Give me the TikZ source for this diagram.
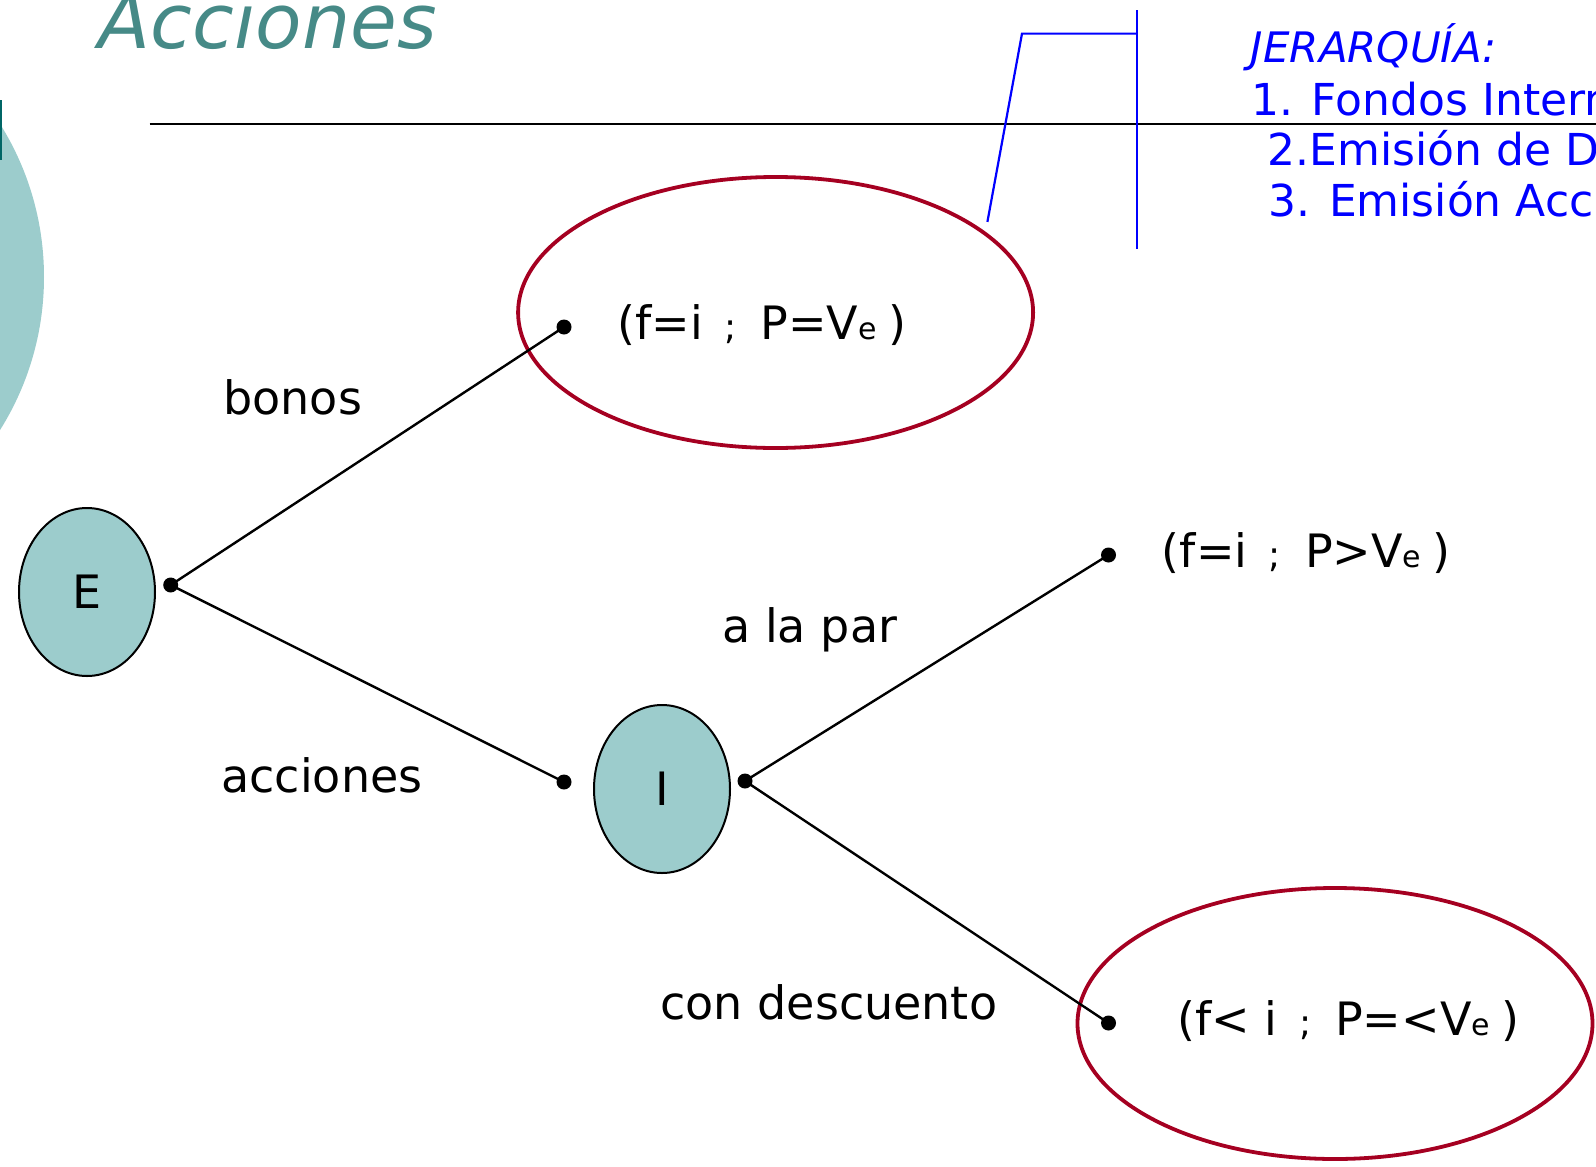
\documentclass[tikz,border=0pt]{standalone}
\usepackage{fontspec}
\setmainfont{DejaVu Sans}
\usetikzlibrary{shapes.geometric}
\definecolor{tealfill}{RGB}{156,204,204}
\definecolor{tealdark}{RGB}{0,102,102}
\definecolor{titleteal}{RGB}{70,138,135}
\definecolor{darkred}{RGB}{165,0,33}
\definecolor{hblue}{RGB}{0,0,255}
\newcommand{\sm}[1]{{\fontsize{15}{18}\selectfont #1}}
\newcommand{\semi}{\hspace{0.47em}{\fontsize{18}{20}\selectfont ;}\hspace{0.52em}}
\tikzset{
  txt/.style={anchor=base west, inner sep=0pt, font=\fontsize{23}{28}\selectfont},
  pt/.style={circle, fill, inner sep=0pt, minimum size=7.5pt},
  state/.style={ellipse, draw, line width=1pt, fill=tealfill, minimum width=68pt, minimum height=84pt, inner sep=0pt, font=\fontsize{23}{28}\selectfont},
  bubble/.style={ellipse, draw=darkred, line width=1.9pt, minimum width=257.5pt, minimum height=135.5pt},
}

\begin{document}
\begin{tikzpicture}[x=0.5pt,y=-0.5pt]
\useasboundingbox (0,0) rectangle (1596,1167);
\clip (0,0) rectangle (1596,1167);
% fondo
\fill[tealfill] (-244,277) circle (144pt);
\fill[tealdark] (0,100) rectangle (2,160);
\node[txt, font=\fontsize{38}{44}\selectfont\itshape, text=titleteal] (titulo) at (98.5,48) {Acciones};
\draw[line width=1.2pt] (149.6,124.2) -- (1596,124.2);
% jerarquia
\draw[hblue, line width=1.1pt] (987.4,221.9) -- (1022,33.6) -- (1137,33.6);
\draw[hblue, line width=1.1pt] (1137,10.2) -- (1137,249.4);
\node[txt, font=\fontsize{21}{25}\selectfont\itshape, text=hblue] (jer) at (1250.5,62.7) {JERARQUÍA:};
\node[txt, font=\fontsize{22}{26}\selectfont, text=hblue] (jer1) at (1250.8,115) {1. Fondos Internos};
\node[txt, font=\fontsize{22}{26}\selectfont, text=hblue] (jer2) at (1267,165.7) {2.Emisión de Deuda};
\node[txt, font=\fontsize{22}{26}\selectfont, text=hblue] (jer3) at (1268,216) {3. Emisión Acciones};
% arbol
\node[bubble] (bsup) at (775.6,312.5) {};
\node[bubble] (binf) at (1335,1023.5) {};
\node[state] (E) at (87,592) {E};
\node[state] (I) at (662,789) {I};
\node[pt] (pE) at (170.7,585) {};
\node[pt] (pB) at (564,327) {};
\node[pt] (pA) at (564,782) {};
\node[pt] (pI) at (745,781) {};
\node[pt] (pP) at (1108.5,555) {};
\node[pt] (pD) at (1108.5,1023) {};
\draw[line width=1.2pt] (pE.center) -- (pB.center);
\draw[line width=1.2pt] (pE.center) -- (pA.center);
\draw[line width=1.2pt] (pI.center) -- (pP.center);
\draw[line width=1.2pt] (pI.center) -- (pD.center);
\node[txt] (bonos) at (223,414) {bonos};
\node[txt] (acciones) at (221,792) {acciones};
\node[txt] (par) at (722,642) {a la par};
\node[txt] (desc) at (660,1019) {con descuento};
\node[txt] (fB) at (617,339) {(f=i\semi P=V\sm{e}\hspace{0.25em})};
\node[txt] (fP) at (1161.5,567) {(f=i\semi P>V\sm{e}\hspace{0.25em})};
\node[txt] (fD) at (1177,1035) {(f< i\semi P=<V\sm{e}\hspace{0.25em})};
\end{tikzpicture}
\end{document}
